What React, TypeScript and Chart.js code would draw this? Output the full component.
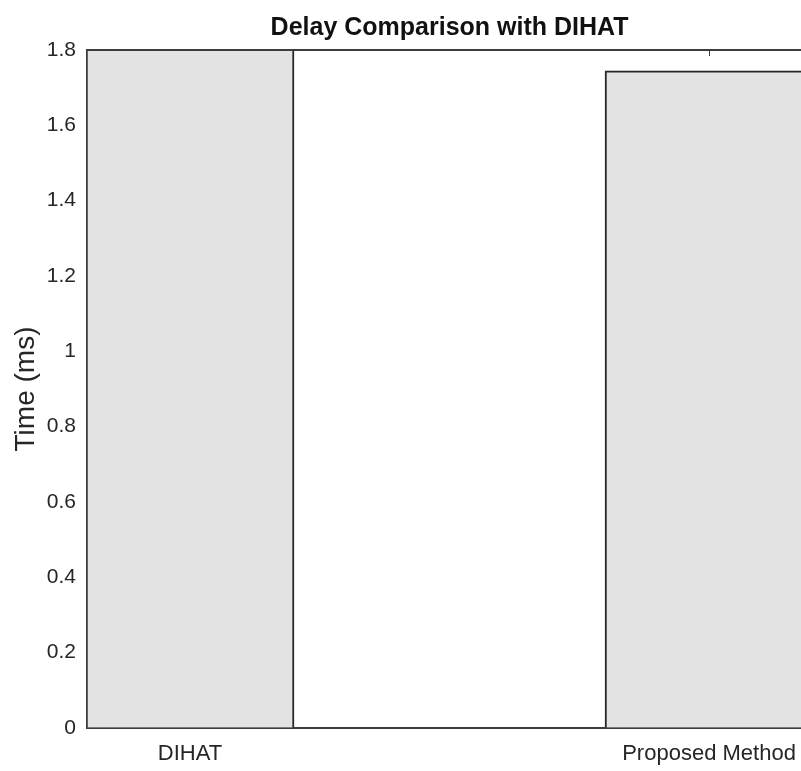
import React, { useEffect, useRef } from "react";
import { Chart, registerables } from "chart.js";

Chart.register(...registerables);

const categories = ["DIHAT", "Proposed Method"];
const categoryPositions = [1, 2];
const delayValues = [1.85, 1.745];
const yTickValues = [0, 0.2, 0.4, 0.6, 0.8, 1, 1.2, 1.4, 1.6, 1.8];
const yTickLabels = ["0", "0.2", "0.4", "0.6", "0.8", "1", "1.2", "1.4", "1.6", "1.8"];
const chartTitle = "Delay Comparison with DIHAT";
const yAxisTitle = "Time (ms)";

const FONT = "'Liberation Sans', Arial, Helvetica, sans-serif";
const TEXT = "#262626";
const AXIS = "#3c3c3c";

const boxPlugin = {
  id: "matlabBox",
  beforeDatasetsDraw(chart: any) {
    const { ctx, chartArea } = chart;
    const x = chart.scales.x;
    ctx.save();
    ctx.strokeStyle = AXIS;
    ctx.lineWidth = 1;
    categoryPositions.forEach((p) => {
      const px = Math.round(x.getPixelForValue(p)) + 0.5;
      ctx.beginPath();
      ctx.moveTo(px, chartArea.top);
      ctx.lineTo(px, chartArea.top + 6);
      ctx.stroke();
    });
    ctx.restore();
  },
  afterDraw(chart: any) {
    const { ctx, chartArea } = chart;
    const x = chart.scales.x;
    ctx.save();
    ctx.strokeStyle = AXIS;
    ctx.lineWidth = 2;
    ctx.beginPath();
    ctx.moveTo(chartArea.left, chartArea.top);
    ctx.lineTo(chartArea.right, chartArea.top);
    ctx.stroke();
    // title centred over the (cropped) axes, i.e. at the middle of the x-limits
    const cx = x.getPixelForValue((categoryPositions[0] + categoryPositions[categoryPositions.length - 1]) / 2);
    ctx.fillStyle = "#111111";
    ctx.font = `bold 25px ${FONT}`;
    ctx.textAlign = "center";
    ctx.textBaseline = "middle";
    ctx.fillText(chartTitle, cx, 28);
    ctx.restore();
  },
};

export default function App() {
  const ref = useRef<HTMLCanvasElement>(null);
  useEffect(() => {
    document.body.style.margin = "0";
    const canvas = ref.current!;
    const chart = new Chart(canvas, {
      type: "bar",
      data: {
        datasets: [
          {
            label: "Delay",
            data: categoryPositions.map((p, i) => ({ x: p, y: delayValues[i] })),
            backgroundColor: "#e3e3e3",
            borderColor: "#262626",
            borderWidth: 2,
            barThickness: 208,
            clip: 0,
          } as any,
        ],
      },
      options: {
        responsive: false,
        animation: false,
        devicePixelRatio: 1,
        layout: { padding: { left: 0, right: 0, top: 50, bottom: 0 } },
        plugins: {
          legend: { display: false },
          tooltip: { enabled: false },
          title: { display: false },
        },
        scales: {
          x: {
            type: "linear",
            min: 0.8015,
            max: 2.1772,
            offset: false,
            afterBuildTicks: (scale: any) => {
              scale.ticks = categoryPositions.map((v) => ({ value: v }));
            },
            afterFit: (scale: any) => {
              scale.height = 43;
              scale.paddingLeft = 0;
              scale.paddingRight = 0;
            },
            ticks: {
              color: TEXT,
              font: { family: FONT, size: 22 },
              padding: 13,
              maxRotation: 0,
              autoSkip: false,
              callback: (v: any) => {
                const i = categoryPositions.indexOf(Number(v));
                return i >= 0 ? categories[i] : "";
              },
            },
            grid: { color: "transparent", drawTicks: false, drawOnChartArea: false },
            border: { display: true, color: AXIS, width: 2 },
          },
          y: {
            min: 0,
            max: 1.8,
            afterBuildTicks: (scale: any) => {
              scale.ticks = yTickValues.map((v) => ({ value: v }));
            },
            afterFit: (scale: any) => {
              scale.width = 87;
              scale.paddingTop = 0;
              scale.paddingBottom = 0;
            },
            ticks: {
              color: TEXT,
              font: { family: FONT, size: 21 },
              padding: 11,
              autoSkip: false,
              callback: (v: any) => {
                const i = yTickValues.findIndex((t) => Math.abs(t - Number(v)) < 1e-9);
                return i >= 0 ? yTickLabels[i] : "";
              },
            },
            grid: { color: "transparent", drawTicks: false, drawOnChartArea: false },
            border: { display: true, color: AXIS, width: 2 },
            title: {
              display: true,
              text: yAxisTitle,
              color: TEXT,
              font: { family: FONT, size: 28 },
              padding: { top: 9, bottom: 0 },
            },
          },
        },
      } as any,
      plugins: [boxPlugin],
    });
    return () => chart.destroy();
  }, []);
  return (
    <div style={{ width: 801, height: 771 }}>
      <canvas ref={ref} width={801} height={771} style={{ display: "block" }} />
    </div>
  );
}
